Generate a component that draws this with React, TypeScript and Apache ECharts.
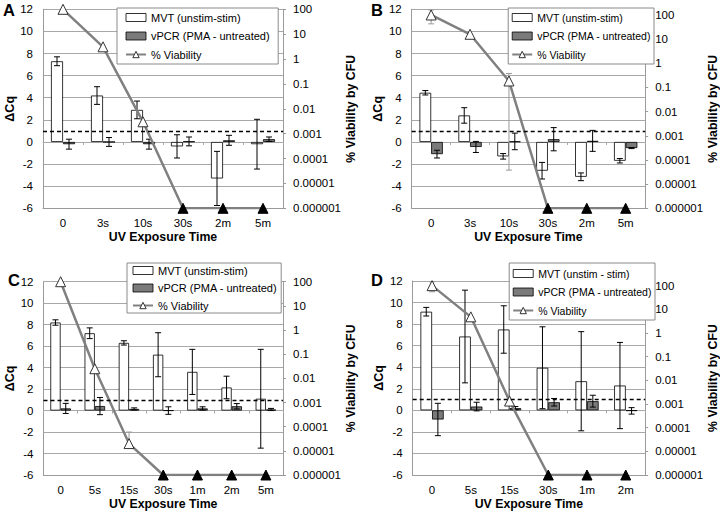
import React, { useEffect, useRef } from 'react';
import * as echarts from 'echarts';

const FONT = "'Liberation Sans', Arial, Helvetica, sans-serif";

// ---------- Panel A ----------
const catsA = ['0', '3s', '10s', '30s', '2m', '5m'];
const mvtA = [7.3, 4.2, 2.9, -0.4, -3.3, -0.2];
const mvtErrA = [0.4, 0.8, 0.8, 1.05, 2.45, 2.25];
const pcrA = [-0.2, 0.0, -0.2, 0.05, 0.15, 0.25];
const pcrErrA = [0.45, 0.4, 0.45, 0.4, 0.45, 0.2];
const viaA = [100, 3.1, 0.003, 1e-6, 1e-6, 1e-6];
const viaHiA: (number | null)[] = [null, null, null, null, null, null];
const viaLoA: (number | null)[] = [null, null, null, null, null, null];

// ---------- Panel B ----------
const catsB = ['0', '3s', '10s', '30s', '2m', '5m'];
const mvtB = [4.45, 2.4, -1.3, -2.6, -3.15, -1.7];
const mvtErrB = [0.2, 0.7, 0.25, 0.75, 0.35, 0.2];
const pcrB = [-1.1, -0.45, 0.05, 0.25, 0.1, -0.55];
const pcrErrB = [0.35, 0.5, 0.75, 1.05, 0.95, 0.05];
const viaB = [100, 15.9, 0.186, 1e-6, 1e-6, 1e-6];
const viaHiB: (number | null)[] = [162, null, 0.38, null, null, null];
const viaLoB: (number | null)[] = [43, null, 3.8e-5, null, null, null];

// ---------- Panel C ----------
const catsC = ['0', '5s', '15s', '30s', '1m', '2m', '5m'];
const mvtC = [8.2, 7.2, 6.3, 5.2, 3.6, 2.15, 1.1];
const mvtErrC = [0.25, 0.5, 0.2, 2.05, 2.1, 1.05, 4.6];
const pcrC = [0.2, 0.42, 0.15, 0.0, 0.2, 0.4, 0.1];
const pcrErrC = [0.47, 0.8, 0.1, 0.35, 0.15, 0.25, 0.1];
const viaC = [100, 0.025, 2.0e-5, 1e-6, 1e-6, 1e-6, 1e-6];
const viaHiC: (number | null)[] = [null, null, 6e-5, null, null, null, null];
const viaLoC: (number | null)[] = [null, null, 2.0e-5, null, null, null, null];

// ---------- Panel D ----------
const catsD = ['0', '5s', '15s', '30s', '1m', '2m'];
const mvtD = [9.15, 6.85, 7.5, 3.95, 2.7, 2.3];
const mvtErrD = [0.4, 4.3, 2.2, 3.8, 4.6, 4.0];
const pcrD = [-0.85, 0.35, 0.2, 0.75, 0.85, -0.05];
const pcrErrD = [1.5, 0.4, 0.15, 0.35, 0.55, 0.3];
const viaD = [100, 4.8, 0.00133, 1e-6, 1e-6, 1e-6];
const viaHiD: (number | null)[] = [145, null, null, null, null, null];
const viaLoD: (number | null)[] = [55, null, null, null, null, null];

const THRESHOLD = 1; // dashed ΔCq cut-off
const LIMIT = 1e-6; // detection limit of viability
const leftTicks = { min: -6, max: 12, interval: 2 };

const mvtNameABC = 'MVT (unstim-stim)';
const mvtNameD = 'MVT (unstim - stim)';
const pcrName = 'vPCR (PMA - untreated)';
const viaName = '% Viability';

const panels = [
  { letter: 'A', cats: catsA, mvt: mvtA, mvtErr: mvtErrA, pcr: pcrA, pcrErr: pcrErrA, via: viaA, viaHi: viaHiA, viaLo: viaLoA, mvtName: mvtNameABC, rightMax: 100 },
  { letter: 'B', cats: catsB, mvt: mvtB, mvtErr: mvtErrB, pcr: pcrB, pcrErr: pcrErrB, via: viaB, viaHi: viaHiB, viaLo: viaLoB, mvtName: mvtNameABC, rightMax: 172 },
  { letter: 'C', cats: catsC, mvt: mvtC, mvtErr: mvtErrC, pcr: pcrC, pcrErr: pcrErrC, via: viaC, viaHi: viaHiC, viaLo: viaLoC, mvtName: mvtNameABC, rightMax: 100 },
  { letter: 'D', cats: catsD, mvt: mvtD, mvtErr: mvtErrD, pcr: pcrD, pcrErr: pcrErrD, via: viaD, viaHi: viaHiD, viaLo: viaLoD, mvtName: mvtNameD, rightMax: 157 },
];

// layout (pixels)
const layout: any[] = [
  { grid: { left: 43, top: 9.3, width: 240, height: 199 }, legend: { left: 117, top: 8, padding: [4, 8, 4, 8], itemGap: 7.5, fontSize: 11 }, letter: [3, 1] },
  { grid: { left: 411.7, top: 9.3, width: 240, height: 199 }, legend: { right: 66, top: 8, padding: [4, 3, 4, 3], itemGap: 7.5, fontSize: 10.5 }, letter: [371, 1] },
  { grid: { left: 43.5, top: 281.7, width: 239.5, height: 193.3 }, legend: { left: 127, top: 263, padding: [2, 4, 2, 5], itemGap: 6.5, fontSize: 11 }, letter: [8, 271] },
  { grid: { left: 412.7, top: 281, width: 240, height: 194 }, legend: { right: 65, top: 263, padding: [5, 3, 4, 3], itemGap: 7.5, fontSize: 10.5 }, letter: [371, 271] },
];

const GRID_COLOR = '#a8a8a8';
const AXIS_COLOR = '#9a9a9a';
const MVT_STYLE = { color: '#ffffff', borderColor: '#000', borderWidth: 0.8 };
const PCR_STYLE = { color: '#7a7a7a', borderColor: '#000', borderWidth: 0.8 };
const TRI_STYLE = { color: '#ffffff', borderColor: '#333', borderWidth: 1 };

function logLabel(v: number): string {
  const l = Math.log10(v);
  const r = Math.round(l);
  if (Math.abs(l - r) > 0.01) return '';
  if (r >= 0) return String(Math.pow(10, r));
  return '0.' + '0'.repeat(-r - 1) + '1';
}

function errRender(offset: number, color: string, cap: number) {
  return (params: any, api: any) => {
    const i = api.value(0);
    const lo = api.value(1);
    const hi = api.value(2);
    const band = api.size([1, 0], [i, lo])[0];
    const pLo = api.coord([i, lo]);
    const pHi = api.coord([i, hi]);
    const x = pLo[0] + offset * band;
    const style = { stroke: color, lineWidth: 1 };
    return {
      type: 'group',
      children: [
        { type: 'line', shape: { x1: x, y1: pLo[1], x2: x, y2: pHi[1] }, style },
        { type: 'line', shape: { x1: x - cap, y1: pLo[1], x2: x + cap, y2: pLo[1] }, style },
        { type: 'line', shape: { x1: x - cap, y1: pHi[1], x2: x + cap, y2: pHi[1] }, style },
      ],
    };
  };
}

function buildOption() {
  const grid: any[] = [];
  const xAxis: any[] = [];
  const yAxis: any[] = [];
  const series: any[] = [];
  const legend: any[] = [];
  const graphic: any[] = [];

  panels.forEach((p, k) => {
    const L = layout[k];
    grid.push({ ...L.grid, containLabel: false });
    const xMain = 2 * k;
    const yLeft = 2 * k;
    const yRight = 2 * k + 1;

    xAxis.push({
      type: 'category', gridIndex: k, data: p.cats, position: 'bottom',
      axisLine: { onZero: false, lineStyle: { color: AXIS_COLOR, width: 1 } },
      axisTick: { show: false },
      axisLabel: { color: '#000', fontSize: 11.5, fontFamily: FONT, margin: 9 },
      name: 'UV Exposure Time', nameLocation: 'middle', nameGap: 23,
      nameTextStyle: { color: '#000', fontSize: 12.3, fontWeight: 'bold', fontFamily: FONT },
      splitLine: { show: false },
    });
    xAxis.push({
      type: 'category', gridIndex: k, data: p.cats, position: 'bottom',
      axisLine: { onZero: true, onZeroAxisIndex: yLeft, lineStyle: { color: GRID_COLOR, width: 1 } },
      axisTick: { show: true, length: 3, alignWithLabel: false, lineStyle: { color: GRID_COLOR } },
      axisLabel: { show: false },
      splitLine: { show: false },
    });
    yAxis.push({
      type: 'value', gridIndex: k, position: 'left', ...leftTicks,
      axisLine: { show: true, lineStyle: { color: AXIS_COLOR } },
      axisTick: { show: false },
      axisLabel: { color: '#000', fontSize: 11.5, fontFamily: FONT, margin: 10 },
      splitLine: { show: true, lineStyle: { color: GRID_COLOR, width: 1 } },
      name: 'ΔCq', nameLocation: 'middle', nameRotate: 90, nameGap: 27,
      nameTextStyle: { color: '#000', fontSize: 12.5, fontWeight: 'bold', fontFamily: FONT },
    });
    yAxis.push({
      type: 'log', logBase: 10, gridIndex: k, position: 'right', min: LIMIT, max: p.rightMax,
      axisLine: { show: true, lineStyle: { color: AXIS_COLOR } },
      axisTick: { show: true, length: 3, inside: false, lineStyle: { color: AXIS_COLOR } },
      axisLabel: { color: '#000', fontSize: 11.5, fontFamily: FONT, margin: 10, formatter: logLabel },
      splitLine: { show: false },
      name: '% Viability by CFU', nameLocation: 'middle', nameRotate: 90, nameGap: 55,
      nameTextStyle: { color: '#000', fontSize: 12.3, fontWeight: 'bold', fontFamily: FONT },
    });

    series.push({
      name: p.mvtName, type: 'bar', xAxisIndex: xMain, yAxisIndex: yLeft,
      data: p.mvt, barWidth: '30%', barGap: '0%', z: 2,
      itemStyle: MVT_STYLE,
      markLine: {
        silent: true, symbol: ['none', 'none'], label: { show: false },
        lineStyle: { color: '#000', type: [4, 3], width: 1.3 },
        data: [{ yAxis: THRESHOLD }], z: 6,
      },
    });
    series.push({
      name: pcrName, type: 'bar', xAxisIndex: xMain, yAxisIndex: yLeft,
      data: p.pcr, barWidth: '30%', barGap: '0%', z: 2,
      itemStyle: PCR_STYLE,
    });
    series.push({
      type: 'custom', xAxisIndex: xMain, yAxisIndex: yLeft, z: 3, silent: true,
      renderItem: errRender(-0.15, '#000', 3),
      data: p.mvt.map((v, i) => [i, v - p.mvtErr[i], v + p.mvtErr[i]]),
    });
    series.push({
      type: 'custom', xAxisIndex: xMain, yAxisIndex: yLeft, z: 3, silent: true,
      renderItem: errRender(0.15, '#000', 3),
      data: p.pcr.map((v, i) => [i, v - p.pcrErr[i], v + p.pcrErr[i]]),
    });
    const viaErr: any[] = [];
    p.via.forEach((v, i) => {
      const hi = p.viaHi[i];
      const lo = p.viaLo[i];
      if (hi != null && lo != null) viaErr.push([i, lo, hi]);
    });
    series.push({
      type: 'custom', xAxisIndex: xMain, yAxisIndex: yRight, z: 3, silent: true,
      renderItem: errRender(0, '#9a9a9a', 3),
      data: viaErr,
    });
    series.push({
      name: viaName, type: 'line', xAxisIndex: xMain, yAxisIndex: yRight, z: 5,
      symbol: 'triangle', symbolSize: 10,
      lineStyle: { color: '#808080', width: 2.5 },
      itemStyle: TRI_STYLE,
      data: p.via.map((v) =>
        v <= LIMIT
          ? { value: v, itemStyle: { color: '#000', borderColor: '#000' } }
          : { value: v }
      ),
    });

    const { fontSize: legendFont, itemGap, ...legendPos } = L.legend;
    legend.push({
      orient: 'vertical', ...legendPos,
      data: [
        { name: p.mvtName, icon: 'rect', itemStyle: MVT_STYLE },
        { name: pcrName, icon: 'rect', itemStyle: PCR_STYLE },
        { name: viaName, itemStyle: TRI_STYLE, lineStyle: { color: '#808080', width: 2 } },
      ],
      itemWidth: 20, itemHeight: 8, itemGap,
      borderColor: '#8a8a8a', borderWidth: 1, backgroundColor: '#fff', selectedMode: false,
      textStyle: { color: '#000', fontSize: legendFont, fontFamily: FONT },
    });

    graphic.push({
      type: 'text', left: L.letter[0], top: L.letter[1],
      style: { text: p.letter, fontSize: 16.5, fontWeight: 'bold', fill: '#000', fontFamily: FONT },
    });
  });

  return {
    animation: false,
    backgroundColor: '#ffffff',
    textStyle: { fontFamily: FONT },
    grid, xAxis, yAxis, series, legend, graphic,
  };
}

export default function App() {
  const ref = useRef<HTMLDivElement>(null);
  useEffect(() => {
    if (!ref.current) return;
    const chart = echarts.init(ref.current, null, { renderer: 'svg' });
    chart.setOption(buildOption() as any);
    return () => chart.dispose();
  }, []);
  return (
    <div
      ref={ref}
      style={{ position: 'fixed', left: 0, top: 0, width: 720, height: 513, background: '#fff' }}
    />
  );
}
